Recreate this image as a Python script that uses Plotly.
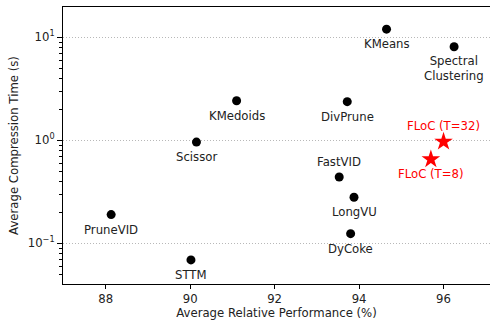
import math
import plotly.graph_objects as go

# Baseline methods: relative performance (%) vs. compression time (s)
methods = ["KMeans", "Spectral<br>Clustering", "KMedoids", "DivPrune", "Scissor",
           "FastVID", "LongVU", "DyCoke", "PruneVID", "STTM"]
perf = [94.65, 96.25, 91.1, 93.72, 90.15, 93.53, 93.88, 93.8, 88.13, 90.02]
time_s = [12.0, 8.1, 2.42, 2.37, 0.96, 0.44, 0.28, 0.124, 0.19, 0.069]
# label placement relative to the marker
label_side = ["below", "below2", "below", "below", "below",
              "above", "below", "below", "below", "below"]

# Proposed method at two settings
floc_names = ["FLoC (T=32)", "FLoC (T=8)"]
floc_perf = [96.0, 95.7]
floc_time = [0.97, 0.655]
floc_side = ["above", "below"]

# Axis ticks
x_ticks = [88, 90, 92, 94, 96]
y_major = [0.1, 1, 10]
y_major_text = ["10<sup>\u22121</sup>", "10<sup>0</sup>", "10<sup>1</sup>"]
y_minor = [m * 10.0 ** e for e in (-2, -1, 0, 1) for m in range(2, 10)]

FONT = "DejaVu Sans"
FS = 11.7
TXT = "#222222"
Y_RANGE = [-1.395, 1.294]

fig = go.Figure()
fig.add_trace(go.Scatter(
    x=perf, y=time_s, mode="markers",
    marker=dict(color="black", size=9, line=dict(width=0)),
    showlegend=False, hoverinfo="skip"))
fig.add_trace(go.Scatter(
    x=floc_perf, y=floc_time, mode="markers",
    marker=dict(color="red", symbol="star", size=14, line=dict(width=0)),
    showlegend=False, hoverinfo="skip"))
# invisible trace so the minor-tick axis is drawn
fig.add_trace(go.Scatter(x=[None], y=[None], yaxis="y2", showlegend=False,
                         hoverinfo="skip"))

shift = {"below": -15, "below2": -22, "above": 15}
for name, xv, yv, side in zip(methods, perf, time_s, label_side):
    fig.add_annotation(x=xv, y=math.log10(yv), text=name, showarrow=False,
                       yshift=shift[side], xanchor="center", yanchor="middle",
                       font=dict(family=FONT, size=FS, color=TXT))
for name, xv, yv, side in zip(floc_names, floc_perf, floc_time, floc_side):
    fig.add_annotation(x=xv, y=math.log10(yv), text=name, showarrow=False,
                       yshift=shift[side] + (1 if side == "above" else 0),
                       xanchor="center", yanchor="middle",
                       font=dict(family=FONT, size=FS, color="red"))

fig.update_layout(
    width=490, height=320,
    margin=dict(l=63, r=0, t=7, b=36),
    plot_bgcolor="white", paper_bgcolor="white",
    font=dict(family=FONT, size=FS, color=TXT),
    xaxis=dict(
        range=[86.99, 97.1], tickvals=x_ticks, ticktext=[str(v) for v in x_ticks],
        showgrid=False, zeroline=False,
        showline=True, linecolor="black", linewidth=1, mirror=True,
        ticks="outside", ticklen=4, tickcolor="black", tickwidth=1,
        title=dict(text="Average Relative Performance (%)", standoff=4,
                   font=dict(family=FONT, size=FS, color=TXT)),
        tickfont=dict(family=FONT, size=FS, color=TXT)),
    yaxis=dict(
        type="log", range=Y_RANGE,
        tickvals=y_major, ticktext=y_major_text,
        showgrid=True, gridcolor="#b8b8b8", griddash="1px,2px", gridwidth=0.8,
        zeroline=False, showline=True, linecolor="black", linewidth=1, mirror=False,
        ticks="outside", ticklen=5, tickcolor="black", tickwidth=1,
        title=dict(text="Average Compression Time (s)", standoff=6,
                   font=dict(family=FONT, size=FS, color=TXT)),
        tickfont=dict(family=FONT, size=FS, color=TXT)),
    # log-scale minor ticks on an overlaid copy of the y axis
    yaxis2=dict(
        type="log", range=Y_RANGE, overlaying="y", side="left",
        tickvals=y_minor, showticklabels=False,
        showgrid=False, zeroline=False, showline=False,
        ticks="outside", ticklen=3, tickcolor="black", tickwidth=0.8),
)

fig.write_html("out.html")
